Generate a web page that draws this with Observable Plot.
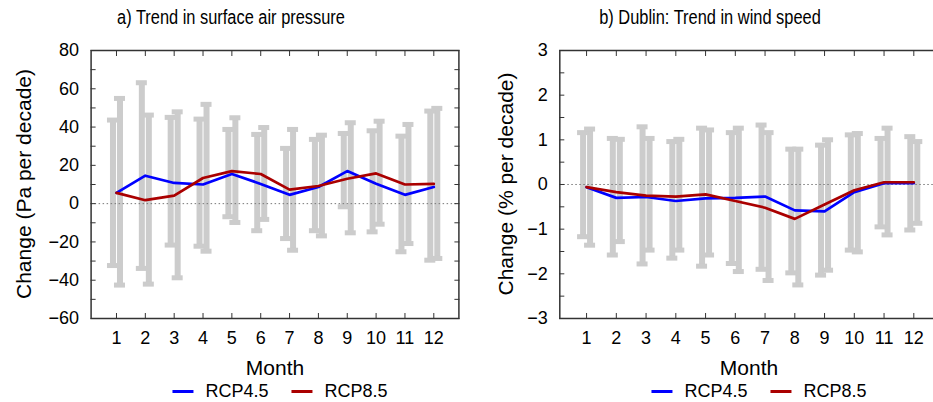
<!DOCTYPE html>
<html><head><meta charset="utf-8">
<script src="https://cdn.jsdelivr.net/npm/d3@7"></script>
<script src="https://cdn.jsdelivr.net/npm/@observablehq/plot@0.6"></script>
<style>
html,body{margin:0;padding:0;background:#fff;overflow:hidden;}
#wrap{position:relative;width:933px;height:402px;overflow:hidden;font-family:"Liberation Sans",Arial,sans-serif;color:#000;}
.abs{position:absolute;white-space:nowrap;line-height:1;}
.title{font-size:20px;transform:translateX(-50%) scaleX(0.82);}
.xlab{font-size:21px;transform:translateX(-50%);}
.ylab{font-size:21px;transform:translate(-50%,-50%) rotate(-90deg);}
.legend{font-size:18px;transform:translateX(-50%);display:flex;align-items:center;}
.sw{display:inline-block;width:21px;height:3px;margin-right:12px;}
.gap{display:inline-block;width:23px;}
svg{overflow:visible;}
</style></head>
<body><div id="wrap"></div>
<script>
const months = [1,2,3,4,5,6,7,8,9,10,11,12];

// a) Trend in surface air pressure (Pa per decade)
const pRcp45 = [5.6, 14.6, 10.8, 10.0, 15.5, 10.3, 4.6, 8.7, 17.0, 10.4, 4.6, 8.7];
const pRcp85 = [5.6, 1.8, 4.2, 13.4, 17.0, 15.5, 7.3, 9.2, 13.0, 15.8, 10.0, 10.3];
const pRcp45Lo = [-32.6, -34.1, -21.9, -22.5, -7.1, -14.4, -18.5, -14.4, -1.9, -15.0, -25.4, -29.8];
const pRcp45Hi = [43.4, 62.9, 44.8, 43.9, 38.5, 35.9, 28.6, 33.3, 36.4, 37.8, 35.0, 48.1];
const pRcp85Lo = [-42.8, -42.3, -39.0, -25.1, -10.1, -8.5, -24.6, -17.1, -15.5, -11.0, -21.1, -28.9];
const pRcp85Hi = [54.7, 46.0, 47.7, 51.6, 44.6, 39.5, 38.5, 35.5, 42.0, 42.8, 41.1, 49.5];
const pTicks = [-60, -40, -20, 0, 20, 40, 60, 80];
const pMinor = [-50, -30, -10, 10, 30, 50, 70];

// b) Dublin: Trend in wind speed (% per decade)
const wRcp45 = [-0.06, -0.30, -0.28, -0.37, -0.31, -0.30, -0.27, -0.58, -0.60, -0.17, 0.03, 0.03];
const wRcp85 = [-0.06, -0.17, -0.25, -0.27, -0.22, -0.37, -0.52, -0.77, -0.45, -0.13, 0.05, 0.05];
const wRcp45Lo = [-1.18, -1.59, -1.79, -1.66, -1.84, -1.78, -1.91, -1.99, -2.04, -1.48, -0.96, -1.03];
const wRcp45Hi = [1.15, 1.02, 1.28, 0.95, 1.25, 1.15, 1.32, 0.78, 0.87, 1.10, 1.02, 1.06];
const wRcp85Lo = [-1.37, -1.29, -1.48, -1.48, -1.59, -1.96, -2.16, -2.26, -1.93, -1.52, -1.14, -0.88];
const wRcp85Hi = [1.23, 1.00, 1.02, 1.00, 1.21, 1.25, 1.15, 0.78, 0.99, 1.13, 1.25, 0.95];
const wTicks = [-3, -2, -1, 0, 1, 2, 3];
const wMinor = [-2.5, -1.5, -0.5, 0.5, 1.5, 2.5];

const colors = {rcp45: "#0000ff", rcp85: "#aa0000", bar: "#cccccc"};

function panel(o) {
  const rows = months.map((m, i) => ({
    month: m, v45: o.v45[i], v85: o.v85[i],
    lo45: o.lo45[i], hi45: o.hi45[i], lo85: o.lo85[i], hi85: o.hi85[i]
  }));
  const cap = (y, dx) => Plot.rect(rows, {x1: "month", x2: "month", y1: y, y2: y, dx,
    insetLeft: -5.5, insetRight: -5.5, insetTop: -2.5, insetBottom: -2.5, fill: colors.bar});
  const allY = o.ticks.concat(o.minor);
  return Plot.plot({
    width: o.width, height: 308,
    marginLeft: o.marginLeft, marginRight: o.marginRight, marginTop: 10, marginBottom: 30,
    style: {fontFamily: '"Liberation Sans", Arial, sans-serif', fontSize: "18px", background: "transparent", overflow: "visible"},
    x: {domain: o.xDomain, axis: null},
    y: {domain: o.yDomain, axis: null},
    marks: [
      Plot.ruleX(rows, {x: "month", y1: "lo45", y2: "hi45", dx: -3.5, stroke: colors.bar, strokeWidth: 6}),
      Plot.ruleX(rows, {x: "month", y1: "lo85", y2: "hi85", dx: 3.5, stroke: colors.bar, strokeWidth: 6}),
      cap("lo45", -3.5), cap("hi45", -3.5), cap("lo85", 3.5), cap("hi85", 3.5),
      Plot.ruleY([0], {stroke: "#777", strokeWidth: 1, strokeDasharray: "1.5,2.5"}),
      Plot.line(rows, {x: "month", y: "v45", stroke: colors.rcp45, strokeWidth: 2.7}),
      Plot.line(rows, {x: "month", y: "v85", stroke: colors.rcp85, strokeWidth: 2.7}),
      Plot.axisY(o.ticks, {anchor: "left", tickSize: 0, tickPadding: 12, fontSize: 18, label: null}),
      Plot.axisY(allY, {anchor: "left", tickSize: -5, tickFormat: () => "", label: null, stroke: "#333"}),
      Plot.axisY(allY, {anchor: "right", tickSize: -5, tickFormat: () => "", label: null, stroke: "#333"}),
      Plot.axisX(months, {anchor: "bottom", tickSize: 0, tickPadding: 13, fontSize: 18, label: null}),
      Plot.axisX(months, {anchor: "bottom", tickSize: -5, tickFormat: () => "", label: null, stroke: "#333"}),
      Plot.axisX(months, {anchor: "top", tickSize: -5, tickFormat: () => "", label: null, stroke: "#333"}),
      Plot.frame({stroke: "#333", strokeWidth: 1.5})
    ]
  });
}

const wrap = document.getElementById("wrap");
function place(el, left, top) {
  el.style.position = "absolute"; el.style.left = left + "px"; el.style.top = top + "px";
  wrap.appendChild(el);
}
function div(cls, html, left, top) {
  const d = document.createElement("div");
  d.className = "abs " + cls; d.innerHTML = html;
  place(d, left, top); return d;
}
function legendHtml() {
  return `<span class="sw" style="background:${colors.rcp45}"></span>RCP4.5<span class="gap"></span>` +
         `<span class="sw" style="background:${colors.rcp85}"></span>RCP8.5`;
}

const left = panel({v45: pRcp45, v85: pRcp85, lo45: pRcp45Lo, hi45: pRcp45Hi, lo85: pRcp85Lo, hi85: pRcp85Hi,
  ticks: pTicks, minor: pMinor, yDomain: [-60, 80], xDomain: [0.12, 12.87],
  width: 470, marginLeft: 90.6, marginRight: 11.6});
place(left, 0, 40);

const right = panel({v45: wRcp45, v85: wRcp85, lo45: wRcp45Lo, hi45: wRcp45Hi, lo85: wRcp85Lo, hi85: wRcp85Hi,
  ticks: wTicks, minor: wMinor, yDomain: [-3, 3], xDomain: [0.1, 12.87],
  width: 479.2, marginLeft: 89.3, marginRight: 10});
place(right, 470, 40);

div("title", "a) Trend in surface air pressure", 231, 7);
div("title", "b) Dublin: Trend in wind speed", 710, 7);
div("ylab", "Change (Pa per decade)", 23, 184);
div("ylab", "Change (% per decade)", 505, 184);
div("xlab", "Month", 275, 357);
div("xlab", "Month", 749, 357);
div("legend", legendHtml(), 280, 382);
div("legend", legendHtml(), 759, 382);
</script></body></html>
